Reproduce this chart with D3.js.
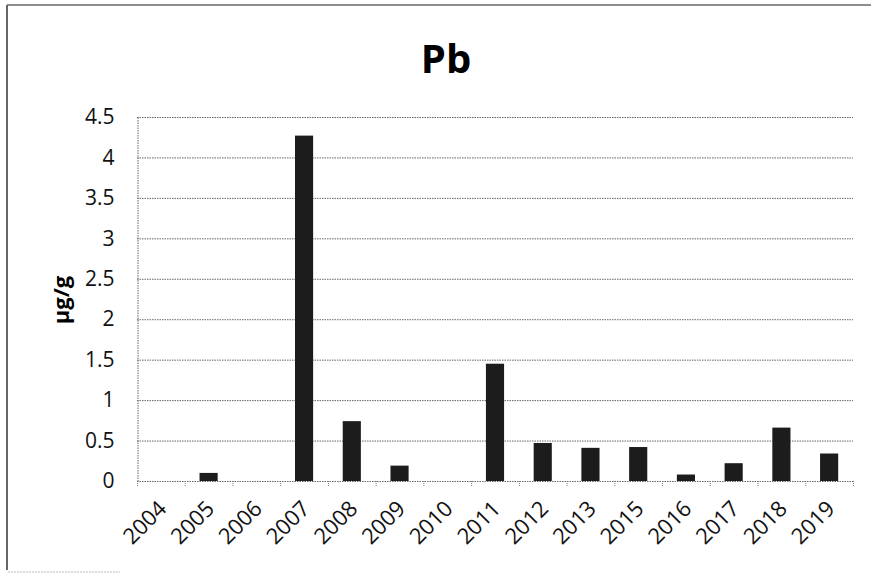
<!DOCTYPE html>
<html>
<head>
<meta charset="utf-8">
<script src="https://cdn.jsdelivr.net/npm/d3@7"></script>
<style>
  body { margin: 0; background: #fff; }
  svg { display: block; }
</style>
</head>
<body>
<svg id="chart" width="871" height="574"></svg>
<script>
const categories = ["2004","2005","2006","2007","2008","2009","2010","2011","2012","2013","2015","2016","2017","2018","2019"];
const values = [0, 0.10, 0, 4.27, 0.74, 0.19, 0, 1.45, 0.47, 0.41, 0.42, 0.08, 0.22, 0.66, 0.34];
const yTicks = [0, 0.5, 1, 1.5, 2, 2.5, 3, 3.5, 4, 4.5];
const title = "Pb";
const yLabel = "μg/g";

const svg = d3.select("#chart");
const margin = { left: 137, right: 18, top: 117, bottom: 93 };
const W = 871, H = 574;
const x0 = margin.left, x1 = W - margin.right;
const yTop = margin.top, yBot = H - margin.bottom;

// outer frame (left and top edges visible, faint partial bottom)
svg.append("line").attr("x1", 7).attr("x2", 7).attr("y1", 5).attr("y2", 570)
  .attr("stroke", "#666").attr("stroke-width", 2);
svg.append("line").attr("x1", 7).attr("x2", W).attr("y1", 5).attr("y2", 5)
  .attr("stroke", "#666").attr("stroke-width", 1.5);
svg.append("line").attr("x1", 8).attr("x2", 120).attr("y1", 572).attr("y2", 572)
  .attr("stroke", "#bbb").attr("stroke-width", 1).attr("stroke-dasharray", "2,1");

const x = d3.scaleBand().domain(categories).range([x0, x1])
  .paddingInner(0.62).paddingOuter(0.31);
const y = d3.scaleLinear().domain([0, 4.5]).range([yBot, yTop]);

// gridlines
svg.append("g").selectAll("line").data(yTicks.filter(d => d > 0)).join("line")
  .attr("x1", x0).attr("x2", x1)
  .attr("y1", d => y(d) + 0.5).attr("y2", d => y(d) + 0.5)
  .attr("stroke", "#666").attr("stroke-width", 1).attr("stroke-dasharray", "1.5,1");

// y axis
const yAxis = d3.axisLeft(y).tickValues(yTicks).tickSize(0).tickPadding(23)
  .tickFormat(d => String(d));
const gy = svg.append("g").attr("transform", `translate(${x0 + 0.5},0)`).call(yAxis);
gy.select(".domain").attr("stroke", "#666").attr("stroke-dasharray", "1.5,1");
gy.selectAll("text")
  .attr("font-family", "Open Sans, sans-serif").attr("font-size", 21).attr("fill", "#111");

// x axis baseline and ticks at band boundaries
const boundaries = categories.map(c => x(c) - x.step() * x.paddingInner() / 2);
boundaries.push(x1);
svg.append("line")
  .attr("x1", x0).attr("x2", x1).attr("y1", yBot + 0.5).attr("y2", yBot + 0.5)
  .attr("stroke", "#666").attr("stroke-dasharray", "1.5,1");
svg.append("g").selectAll("line").data(boundaries).join("line")
  .attr("x1", d => d + 0.5).attr("x2", d => d + 0.5)
  .attr("y1", yBot).attr("y2", yBot + 6)
  .attr("stroke", "#777").attr("stroke-dasharray", "1,1");

// bars
svg.append("g").selectAll("rect").data(categories).join("rect")
  .attr("x", d => x(d))
  .attr("width", x.bandwidth())
  .attr("y", (d, i) => y(values[i]))
  .attr("height", (d, i) => yBot - y(values[i]))
  .attr("fill", "#1c1c1c");

// x labels
svg.append("g").selectAll("text").data(categories).join("text")
  .attr("transform", d => `translate(${x(d) + x.bandwidth() / 2 + 7},${yBot + 29}) rotate(-45)`)
  .attr("text-anchor", "end")
  .attr("font-family", "Open Sans, sans-serif").attr("font-size", 22).attr("fill", "#111")
  .text(d => d);

// title
svg.append("text")
  .attr("x", 446).attr("y", 73)
  .attr("text-anchor", "middle")
  .attr("font-family", "Open Sans, sans-serif").attr("font-weight", "bold").attr("font-size", 40)
  .attr("fill", "#000")
  .text(title);

// y label
svg.append("text")
  .attr("transform", `translate(69,300) rotate(-90)`)
  .attr("text-anchor", "middle")
  .attr("font-family", "Open Sans, sans-serif").attr("font-weight", "bold").attr("font-size", 22)
  .attr("fill", "#000")
  .text(yLabel);
</script>
</body>
</html>
